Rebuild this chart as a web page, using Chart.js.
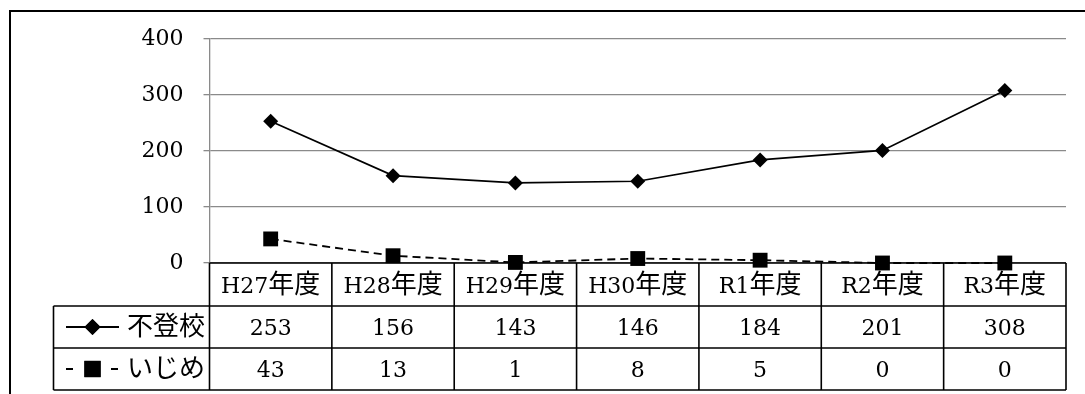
<!DOCTYPE html>
<html>
<head>
<meta charset="utf-8">
<script src="https://cdn.jsdelivr.net/npm/chart.js@4"></script>
<style>
  html, body { margin: 0; padding: 0; background: #fff; }
  canvas { display: block; }
</style>
</head>
<body>
<canvas id="c" width="1085" height="394"></canvas>
<script>
// Fiscal years shown along the category axis / table header
const categories = ['H27年度', 'H28年度', 'H29年度', 'H30年度', 'R1年度', 'R2年度', 'R3年度'];
// Series names
const seriesNames = ['不登校', 'いじめ'];
// Counts per year
const futoukou = [253, 156, 143, 146, 184, 201, 308];
const ijime = [43, 13, 1, 8, 5, 0, 0];
// Value axis ticks
const yTicks = [0, 100, 200, 300, 400];

const LATIN_FONT = '22px "DejaVu Serif", "Liberation Serif", serif';
const CJK_FONT = '26px "Noto Sans CJK JP", sans-serif';

// Draw text made of Latin and CJK runs, each with its own font
function drawMixed(ctx, text, x, cy, align) {
  const runs = text.match(/[\x00-\x7F]+|[^\x00-\x7F]+/g) || [];
  const parts = runs.map(r => {
    const font = /^[\x00-\x7F]+$/.test(r) ? LATIN_FONT : CJK_FONT;
    ctx.font = font;
    return { r, font, w: ctx.measureText(r).width };
  });
  const total = parts.reduce((s, p) => s + p.w, 0);
  let start = align === 'center' ? x - total / 2 : (align === 'right' ? x - total : x);
  ctx.textAlign = 'left';
  ctx.textBaseline = 'alphabetic';
  ctx.fillStyle = '#000';
  parts.forEach(p => {
    ctx.font = p.font;
    ctx.fillText(p.r, start, cy + 8);
    start += p.w;
  });
}

// Data table under the plot plus the outer frame
const tablePlugin = {
  id: 'dataTable',
  beforeDatasetsDraw(chart) {
    const ctx = chart.ctx;
    const xs = chart.scales.x;
    const area = chart.chartArea;
    const left = area.left, right = area.right;
    const top = area.bottom;
    const rowH = [43, 42, 42];
    const y0 = top, y1 = y0 + rowH[0], y2 = y1 + rowH[1], y3 = y2 + rowH[2];
    const tableLeft = 53.5;
    const n = categories.length;
    const colW = (right - left) / n;

    ctx.save();
    ctx.strokeStyle = '#000';
    ctx.lineWidth = 1.6;
    ctx.beginPath();
    ctx.moveTo(left, y0); ctx.lineTo(right, y0);
    ctx.moveTo(tableLeft, y1); ctx.lineTo(right, y1);
    ctx.moveTo(tableLeft, y2); ctx.lineTo(right, y2);
    ctx.moveTo(tableLeft, y3); ctx.lineTo(right, y3);
    ctx.moveTo(tableLeft, y1); ctx.lineTo(tableLeft, y3);
    for (let i = 0; i <= n; i++) {
      const x = left + colW * i;
      ctx.moveTo(x, y0); ctx.lineTo(x, y3);
    }
    ctx.stroke();

    // header labels and values
    categories.forEach((c, i) => {
      const cx = xs.getPixelForValue(i);
      drawMixed(ctx, c, cx, (y0 + y1) / 2, 'center');
      drawMixed(ctx, String(futoukou[i]), cx, (y1 + y2) / 2, 'center');
      drawMixed(ctx, String(ijime[i]), cx, (y2 + y3) / 2, 'center');
    });

    // legend keys
    const ds = chart.data.datasets;
    const keyC = 92.5;
    const rows = [(y1 + y2) / 2, (y2 + y3) / 2];
    ds.forEach((d, k) => {
      const cy = rows[k];
      ctx.save();
      ctx.strokeStyle = '#000';
      ctx.lineWidth = 2;
      ctx.beginPath();
      if (d.borderDash) {
        ctx.moveTo(66, cy); ctx.lineTo(73, cy);
        ctx.moveTo(111, cy); ctx.lineTo(118, cy);
      } else {
        ctx.moveTo(66, cy); ctx.lineTo(119, cy);
      }
      ctx.stroke();
      ctx.restore();
      Chart.helpers.drawPoint(ctx, {
        pointStyle: d.pointStyle, radius: d.pointStyle === 'rect' ? 11.5 : 8, rotation: 0,
        borderWidth: 0
      }, keyC, cy);
      ctx.fillStyle = '#000';
      ctx.fill();
      drawMixed(ctx, seriesNames[k], 127, cy, 'left');
    });

    // outer frame (top and left edges)
    ctx.lineWidth = 2;
    ctx.strokeStyle = '#000';
    ctx.beginPath();
    ctx.moveTo(10, 394); ctx.lineTo(10, 11); ctx.lineTo(1085, 11);
    ctx.stroke();
    ctx.restore();
  }
};

new Chart(document.getElementById('c'), {
  type: 'line',
  data: {
    labels: categories,
    datasets: [
      {
        label: seriesNames[0],
        data: futoukou,
        borderColor: '#000',
        backgroundColor: '#000',
        borderWidth: 1.7,
        pointStyle: 'rectRot',
        pointRadius: 7.5,
        pointBorderWidth: 0,
        pointBackgroundColor: '#000',
        tension: 0,
        clip: false
      },
      {
        label: seriesNames[1],
        data: ijime,
        borderColor: '#000',
        backgroundColor: '#000',
        borderWidth: 1.8,
        borderDash: [8, 5],
        pointStyle: 'rect',
        pointRadius: 10.5,
        pointBorderWidth: 0,
        pointBackgroundColor: '#000',
        tension: 0,
        clip: false
      }
    ]
  },
  options: {
    responsive: false,
    animation: false,
    devicePixelRatio: 1,
    layout: { padding: { left: 0, right: 19, top: 39, bottom: 131 } },
    plugins: {
      legend: { display: false },
      tooltip: { enabled: false },
      title: { display: false }
    },
    scales: {
      x: {
        type: 'category',
        offset: true,
        display: false
      },
      y: {
        min: 0,
        max: 400,
        afterFit(scale) { scale.width = 209.5; },
        afterBuildTicks(scale) { scale.ticks = yTicks.map(v => ({ value: v })); },
        ticks: {
          color: '#000',
          font: { family: '"DejaVu Serif", "Liberation Serif", serif', size: 22 },
          padding: 20
        },
        grid: {
          color: '#8a8a8a',
          lineWidth: 1.3,
          tickLength: 6,
          drawTicks: true
        },
        border: { display: true, color: '#8a8a8a', width: 1.3 }
      }
    }
  },
  plugins: [tablePlugin]
});
</script>
</body>
</html>
